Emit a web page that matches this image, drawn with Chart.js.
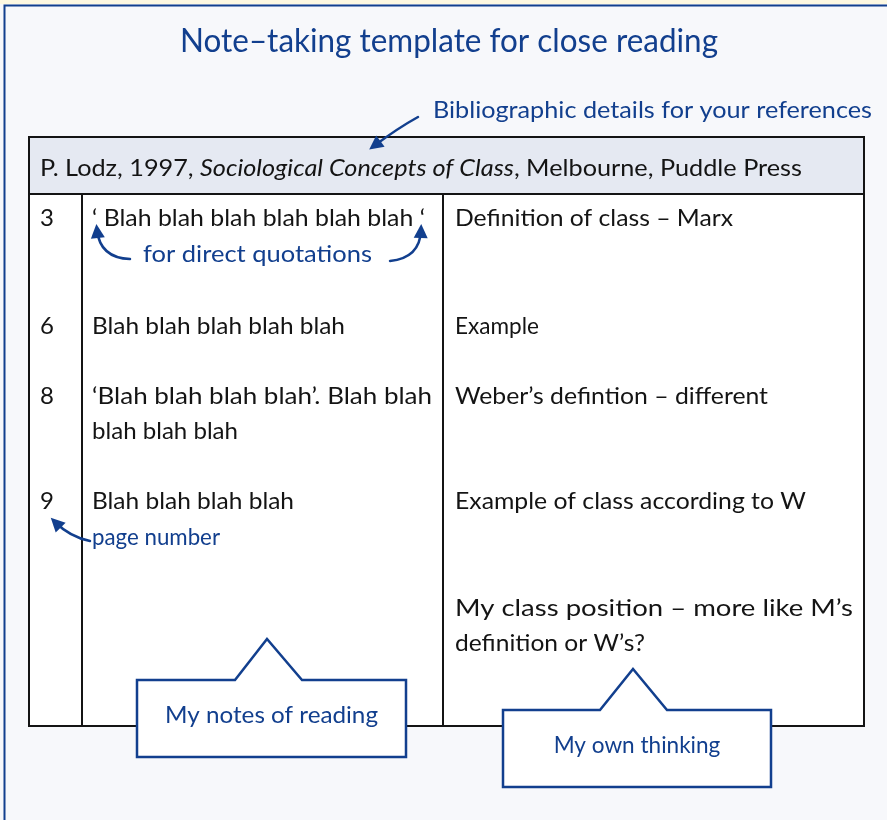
<!DOCTYPE html>
<html>
<head>
<meta charset="utf-8">
<script src="https://cdn.jsdelivr.net/npm/chart.js@4.4.0/dist/chart.umd.min.js"></script>
<style>
  html, body { margin: 0; padding: 0; background: #f7f8fb; }
  canvas { display: block; }
</style>
</head>
<body>
<canvas id="noteChart" width="887" height="820"></canvas>
<script>
// text content of the template
const titleText = "Note–taking template for close reading";
const bibLabel = "Bibliographic details for your references";
const citation = ["P. Lodz, 1997, ", "Sociological Concepts of Class", ", Melbourne, Puddle Press"];
const pageNumbers = ["3", "6", "8", "9", ""];
const readingNotes = [
  ["‘ Blah blah blah blah blah blah ‘"],
  ["Blah blah blah blah blah"],
  ["‘Blah blah blah blah’. Blah blah", "blah blah blah"],
  ["Blah blah blah blah"],
  []
];
const ownThoughts = [
  ["Definition of class – Marx"],
  ["Example"],
  ["Weber’s defintion – different"],
  ["Example of class according to W"],
  ["My class position – more like M’s", "definition or W’s?"]
];
const quoteNote = "for direct quotations";
const pageNote = "page number";
const calloutLabels = ["My notes of reading", "My own thinking"];

// layout (canvas units)
const rowCenters = [218, 326, 396, 501, 608];
const lineGap = 35;
const noteWidths = [[333], [253], [340, 146], [202], []];
const thoughtWidths = [[278], [82], [313], [351], [398, 190]];
const table = { left: 29, right: 864, top: 137, head: 194, bottom: 726, col1: 82, col2: 443 };
const callouts = [
  { left: 137, right: 406, top: 680, bottom: 757, apex: 267, tipY: 639, baseL: 235, baseR: 302, textY: 715, textW: 213 },
  { left: 503, right: 771, top: 710, bottom: 787, apex: 633, tipY: 669, baseL: 600, baseR: 667, textY: 745, textW: 165 }
];

const BLUE = "#123f8e";
const INK = "#141414";
const FONT = "Lato, 'Open Sans', sans-serif";

const templatePlugin = {
  id: "template",
  beforeDraw(chart) {
    const { ctx } = chart;
    const sx = chart.scales.x, sy = chart.scales.y;
    const X = v => sx.getPixelForValue(v);
    const Y = v => sy.getPixelForValue(v);

    // page background, cream strip and blue frame
    ctx.save();
    ctx.fillStyle = "#f7f8fb";
    ctx.fillRect(X(0), Y(0), X(887) - X(0), Y(820) - Y(0));
    ctx.fillStyle = "#fdf8e1";
    ctx.fillRect(X(0), Y(0), X(887) - X(0), Y(4) - Y(0));
    ctx.strokeStyle = "#123f8e";
    ctx.lineWidth = 2;
    ctx.beginPath();
    ctx.moveTo(X(4.5), Y(820));
    ctx.lineTo(X(4.5), Y(5.5));
    ctx.lineTo(X(887), Y(5.5));
    ctx.stroke();

    // table body and header
    ctx.fillStyle = "#ffffff";
    ctx.fillRect(X(table.left), Y(table.top), X(table.right) - X(table.left), Y(table.bottom) - Y(table.top));
    ctx.fillStyle = "#e5e9f2";
    ctx.fillRect(X(table.left), Y(table.top), X(table.right) - X(table.left), Y(table.head) - Y(table.top));
    ctx.strokeStyle = INK;
    ctx.lineWidth = 2;
    ctx.strokeRect(X(table.left), Y(table.top), X(table.right) - X(table.left), Y(table.bottom) - Y(table.top));
    ctx.beginPath();
    ctx.moveTo(X(table.left), Y(table.head));
    ctx.lineTo(X(table.right), Y(table.head));
    ctx.moveTo(X(table.col1), Y(table.head));
    ctx.lineTo(X(table.col1), Y(table.bottom));
    ctx.moveTo(X(table.col2), Y(table.head));
    ctx.lineTo(X(table.col2), Y(table.bottom));
    ctx.stroke();
    ctx.restore();
  },
  afterDraw(chart) {
    const { ctx } = chart;
    const sx = chart.scales.x, sy = chart.scales.y;
    const X = v => sx.getPixelForValue(v);
    const Y = v => sy.getPixelForValue(v);

    // text stretched horizontally toward a target width (handwritten look is wider)
    const fit = (text, x, y, w, font, align) => {
      ctx.font = font;
      const m = ctx.measureText(text).width || 1;
      const k = Math.min(1.25, Math.max(0.94, w / m));
      const realW = m * k;
      ctx.save();
      const left = align === "center" ? X(x) - realW / 2 : X(x);
      ctx.translate(left, Y(y));
      ctx.scale(k, 1);
      ctx.textAlign = "left";
      ctx.fillText(text, 0, 0);
      ctx.restore();
      return realW;
    };

    ctx.save();
    ctx.textBaseline = "middle";

    // title and label
    ctx.fillStyle = BLUE;
    fit(titleText, 449, 42, 538, "32px " + FONT, "center");
    fit(bibLabel, 433, 110, 439, "24px " + FONT);

    // citation in header, stretched as one line
    ctx.fillStyle = INK;
    let total = 0;
    citation.forEach((part, i) => {
      ctx.font = (i === 1 ? "italic " : "") + "24px " + FONT;
      total += ctx.measureText(part).width;
    });
    const hk = 762 / total;
    let cx = 40;
    citation.forEach((part, i) => {
      const font = (i === 1 ? "italic " : "") + "24px " + FONT;
      ctx.font = font;
      const w = ctx.measureText(part).width * hk;
      fit(part, cx, 168, w, font);
      cx += w;
    });

    // rows
    pageNumbers.forEach((p, i) => {
      ctx.font = "24px " + FONT;
      ctx.fillText(p, X(40), Y(rowCenters[i]));
      readingNotes[i].forEach((t, k) => fit(t, 92, rowCenters[i] + k * lineGap, noteWidths[i][k], "24px " + FONT));
      ownThoughts[i].forEach((t, k) => fit(t, 455, rowCenters[i] + k * lineGap, thoughtWidths[i][k], "24px " + FONT));
    });

    // blue annotations
    ctx.fillStyle = BLUE;
    fit(quoteNote, 143, 255, 229, "23px " + FONT);
    fit(pageNote, 92, 538, 128, "23px " + FONT);

    // curved arrows
    const arrow = (p0, c, p1) => {
      ctx.strokeStyle = BLUE;
      ctx.fillStyle = BLUE;
      ctx.lineWidth = 2.5;
      ctx.lineCap = "round";
      ctx.beginPath();
      ctx.moveTo(X(p0[0]), Y(p0[1]));
      ctx.quadraticCurveTo(X(c[0]), Y(c[1]), X(p1[0]), Y(p1[1]));
      ctx.stroke();
      const a = Math.atan2(Y(p1[1]) - Y(c[1]), X(p1[0]) - X(c[0]));
      const tx = X(p1[0]) + Math.cos(a) * 6, ty = Y(p1[1]) + Math.sin(a) * 6;
      ctx.beginPath();
      ctx.moveTo(tx, ty);
      ctx.lineTo(tx - 14 * Math.cos(a) + 7 * Math.sin(a), ty - 14 * Math.sin(a) - 7 * Math.cos(a));
      ctx.lineTo(tx - 14 * Math.cos(a) - 7 * Math.sin(a), ty - 14 * Math.sin(a) + 7 * Math.cos(a));
      ctx.closePath();
      ctx.fill();
    };
    arrow([418, 117], [398, 128], [374, 146]);
    arrow([130, 259], [100, 258], [97, 230]);
    arrow([390, 261], [420, 258], [421, 230]);
    arrow([90, 541], [70, 537], [55, 522]);

    // callout boxes
    callouts.forEach((b, i) => {
      ctx.beginPath();
      ctx.moveTo(X(b.left), Y(b.top));
      ctx.lineTo(X(b.baseL), Y(b.top));
      ctx.lineTo(X(b.apex), Y(b.tipY));
      ctx.lineTo(X(b.baseR), Y(b.top));
      ctx.lineTo(X(b.right), Y(b.top));
      ctx.lineTo(X(b.right), Y(b.bottom));
      ctx.lineTo(X(b.left), Y(b.bottom));
      ctx.closePath();
      ctx.fillStyle = "#ffffff";
      ctx.fill();
      ctx.strokeStyle = BLUE;
      ctx.lineWidth = 2.5;
      ctx.lineJoin = "miter";
      ctx.stroke();
      ctx.fillStyle = BLUE;
      fit(calloutLabels[i], (b.left + b.right) / 2, b.textY, b.textW, "24px " + FONT, "center");
    });
    ctx.restore();
  }
};

new Chart(document.getElementById("noteChart"), {
  type: "scatter",
  data: { datasets: [] },
  options: {
    responsive: false,
    animation: false,
    devicePixelRatio: 1,
    layout: { padding: 0 },
    plugins: {
      legend: { display: false },
      tooltip: { enabled: false }
    },
    scales: {
      x: { type: "linear", min: 0, max: 887, display: false },
      y: { type: "linear", min: 0, max: 820, reverse: true, display: false }
    }
  },
  plugins: [templatePlugin]
});
</script>
</body>
</html>
